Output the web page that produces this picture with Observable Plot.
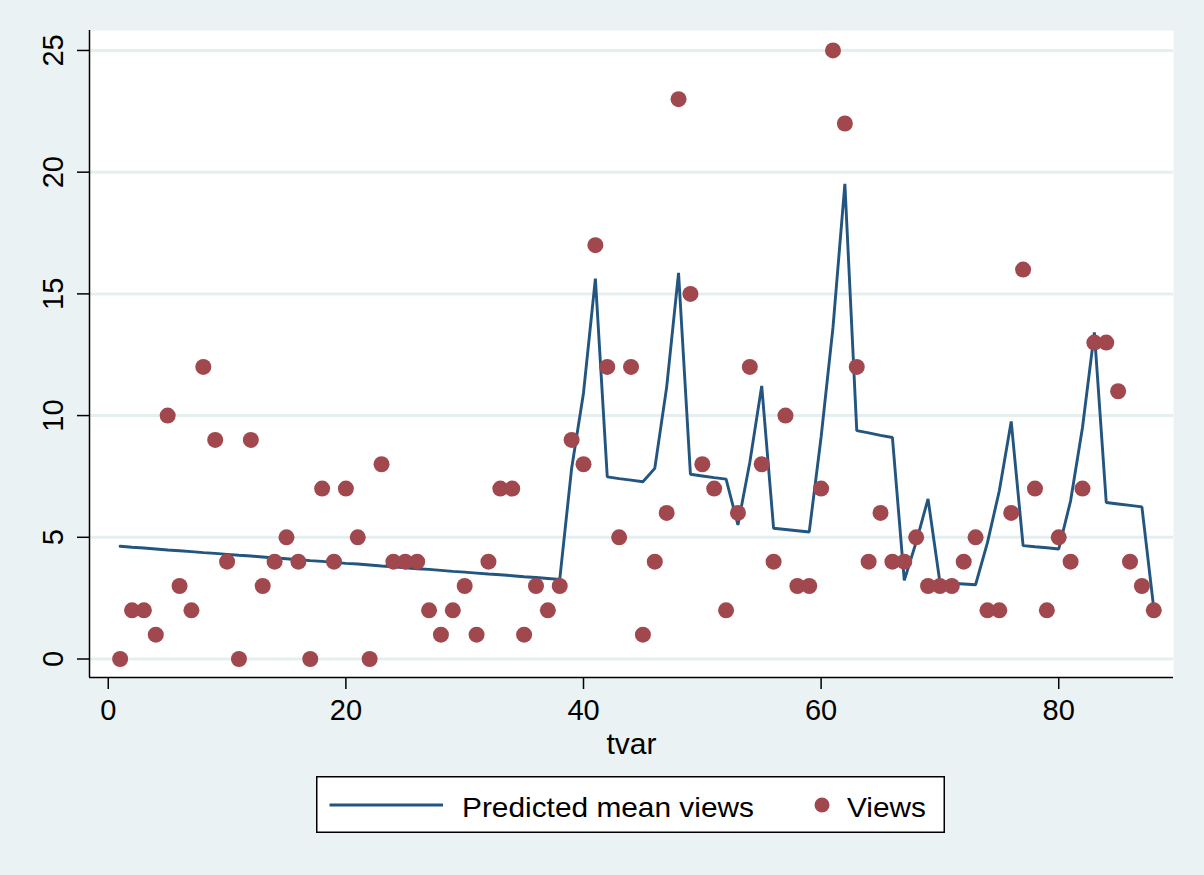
<!DOCTYPE html>
<html>
<head>
<meta charset="utf-8">
<script src="https://cdn.jsdelivr.net/npm/d3@7"></script>
<script src="https://cdn.jsdelivr.net/npm/@observablehq/plot@0.6"></script>
<style>
  html, body { margin: 0; padding: 0; background: #eaf2f3; }
  #wrap { position: relative; width: 1204px; height: 875px; overflow: hidden; font-family: "Liberation Sans", Arial, Helvetica, sans-serif; }
  #legend { position: absolute; left: 316px; top: 776px; }
</style>
</head>
<body>
<div id="wrap">
  <div id="chart"></div>
  <svg id="legend" width="630" height="58"></svg>
</div>
<script>
const tvar = [1,2,3,4,5,6,7,8,9,10,11,12,13,14,15,16,17,18,19,20,21,22,23,24,25,26,27,28,29,30,31,32,33,34,35,36,37,38,39,40,41,42,43,44,45,46,47,48,49,50,51,52,53,54,55,56,57,58,59,60,61,62,63,64,65,66,67,68,69,70,71,72,73,74,75,76,77,78,79,80,81,82,83,84,85,86,87,88];

const views = [0,2,2,1,10,3,2,12,9,4,0,9,3,4,5,4,0,7,4,7,5,0,8,4,4,4,2,1,2,3,1,4,7,7,1,3,2,3,9,8,17,12,5,12,1,4,6,23,15,8,7,2,6,12,8,4,10,3,3,7,25,22,12,4,6,4,4,5,3,3,3,4,5,2,2,6,16,7,2,5,4,7,13,13,11,4,3,2];

const predicted = [4.63,4.59,4.56,4.52,4.48,4.45,4.41,4.37,4.34,4.30,4.26,4.23,4.19,4.15,4.12,4.08,4.04,4.01,3.97,3.93,3.90,3.86,3.82,3.79,3.75,3.71,3.68,3.64,3.60,3.57,3.53,3.49,3.46,3.42,3.38,3.35,3.31,3.27,
  7.83,10.93,15.63,7.48,7.41,7.35,7.28,7.83,11.17,15.86,7.59,7.52,7.45,7.39,5.51,8.08,11.22,5.37,5.32,5.27,5.22,9.12,13.62,19.52,9.38,9.29,9.19,9.10,3.23,4.8,6.58,3.14,3.11,3.08,3.05,4.78,6.91,9.76,4.66,4.61,4.57,4.52,6.5,9.51,13.42,6.43,6.37,6.31,6.25,2.08];

const xTicks = [0, 20, 40, 60, 80];
const yTicks = [0, 5, 10, 15, 20, 25];
const xLabel = "tvar";
const legendLabels = ["Predicted mean views", "Views"];

const lineColor = "#22557f";
const dotColor = "#a0484d";

const data = tvar.map((t, i) => ({tvar: t, views: views[i], predicted: predicted[i]}));

const xDomain = [-1.58, 89.66];
const yDomain = [-0.76, 25.82];

const chart = Plot.plot({
  width: 1204,
  height: 765,
  marginLeft: 89,
  marginRight: 31,
  marginTop: 30,
  marginBottom: 88,
  x: {domain: xDomain},
  y: {domain: yDomain},
  style: {background: "transparent", fontFamily: "'Liberation Sans', Arial, Helvetica, sans-serif", fontSize: "29px", color: "black"},
  marks: [
    Plot.frame({fill: "white", stroke: "none"}),
    Plot.gridY(yTicks, {stroke: "#e6eff0", strokeOpacity: 1, strokeWidth: 3}),
    Plot.line(data, {x: "tvar", y: "predicted", stroke: lineColor, strokeWidth: 2.9, strokeLinejoin: "miter"}),
    Plot.dot(data, {x: "tvar", y: "views", r: 8, fill: dotColor, stroke: "none"}),
    Plot.ruleX([xDomain[0]], {stroke: "black", strokeWidth: 1.5}),
    Plot.ruleY([yDomain[0]], {stroke: "black", strokeWidth: 1.5}),
    Plot.axisX(xTicks, {tickSize: 12, tickPadding: 10, fontSize: 29, label: null, strokeWidth: 1.5}),
    Plot.axisY(yTicks, {tickSize: 12, tickFormat: () => "", label: null, strokeWidth: 1.5}),
    Plot.text(yTicks, {y: d => d, text: d => String(d), frameAnchor: "left", dx: -35.7, rotate: -90, fontSize: 29, textAnchor: "middle", lineAnchor: "middle"}),
    Plot.text([xLabel], {text: d => d, frameAnchor: "bottom", dy: 55, lineAnchor: "top", textAnchor: "middle", fontSize: 30})
  ]
});
document.getElementById("chart").appendChild(chart);

// Legend below the plot
const lg = d3.select("#legend");
lg.append("rect").attr("x", 0.75).attr("y", 0.75).attr("width", 627.5).attr("height", 55.5)
  .attr("fill", "white").attr("stroke", "black").attr("stroke-width", 1.5);
lg.append("line").attr("x1", 13.5).attr("x2", 127).attr("y1", 29).attr("y2", 29)
  .attr("stroke", lineColor).attr("stroke-width", 2.9);
lg.append("text").attr("x", 146).attr("y", 40.5).attr("font-size", 28)
  .attr("font-family", "'Liberation Sans', Arial, sans-serif").attr("textLength", 292).attr("lengthAdjust", "spacingAndGlyphs")
  .text(legendLabels[0]);
lg.append("circle").attr("cx", 506).attr("cy", 29).attr("r", 7.5).attr("fill", dotColor);
lg.append("text").attr("x", 531).attr("y", 40.5).attr("font-size", 28)
  .attr("font-family", "'Liberation Sans', Arial, sans-serif").attr("textLength", 79).attr("lengthAdjust", "spacingAndGlyphs")
  .text(legendLabels[1]);
</script>
</body>
</html>
